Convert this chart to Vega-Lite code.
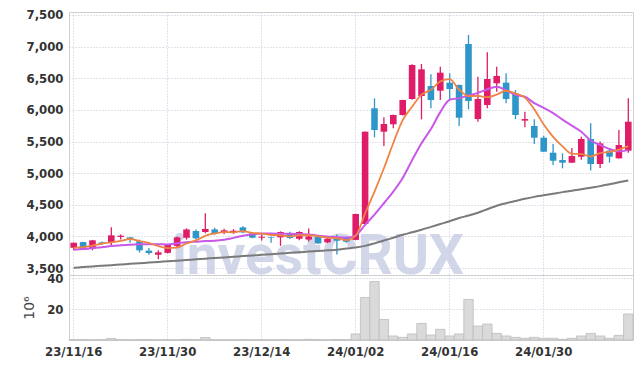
{
  "$schema": "https://vega.github.io/schema/vega-lite/v6.json",
  "autosize": {"type": "pad"},
  "padding": {"left": 22, "top": 8, "right": 10, "bottom": 5},
  "background": "white",
  "spacing": 0,
  "bounds": "flush",
  "config": {
    "view": {"stroke": "#cfcfcf", "strokeWidth": 1},
    "axis": {
      "labelFont": "DejaVu Sans Condensed, sans-serif",
      "labelFontSize": 13,
      "labelFontWeight": "bold",
      "labelColor": "#333333",
      "labelOverlap": false,
      "gridColor": "#c3c7d9",
      "gridDash": [1, 2],
      "gridWidth": 1,
      "ticks": false,
      "domain": false
    }
  },
  "data": {
    "values": [
      {"date": "23/11/16", "open": 3820, "high": 3905, "low": 3785, "close": 3900, "volume": 0.2, "ma5": 3820, "ma10": 3790, "ma60": 3505},
      {"date": "23/11/17", "open": 3910, "high": 3915, "low": 3795, "close": 3800, "volume": 0.2, "ma5": 3832, "ma10": 3800, "ma60": 3515},
      {"date": "23/11/20", "open": 3805, "high": 3945, "low": 3780, "close": 3938, "volume": 0.1, "ma5": 3853, "ma10": 3815, "ma60": 3525},
      {"date": "23/11/21", "open": 3905, "high": 3920, "low": 3865, "close": 3880, "volume": 0.2, "ma5": 3885, "ma10": 3830, "ma60": 3536},
      {"date": "23/11/22", "open": 3906, "high": 4143, "low": 3850, "close": 4017, "volume": 1.0, "ma5": 3907, "ma10": 3848, "ma60": 3546},
      {"date": "23/11/23", "open": 3990, "high": 4030, "low": 3950, "close": 4010, "volume": 0.2, "ma5": 3929, "ma10": 3860, "ma60": 3556},
      {"date": "23/11/24", "open": 3985, "high": 3990, "low": 3900, "close": 3948, "volume": 0.1, "ma5": 3959, "ma10": 3870, "ma60": 3566},
      {"date": "23/11/27", "open": 3925, "high": 3948, "low": 3745, "close": 3780, "volume": 0.2, "ma5": 3927, "ma10": 3876, "ma60": 3576},
      {"date": "23/11/28", "open": 3775, "high": 3816, "low": 3710, "close": 3737, "volume": 0.2, "ma5": 3898, "ma10": 3878, "ma60": 3587},
      {"date": "23/11/29", "open": 3710, "high": 3780, "low": 3640, "close": 3748, "volume": 0.1, "ma5": 3845, "ma10": 3876, "ma60": 3597},
      {"date": "23/11/30", "open": 3740, "high": 3875, "low": 3730, "close": 3865, "volume": 0.2, "ma5": 3816, "ma10": 3872, "ma60": 3607},
      {"date": "23/12/01", "open": 3850, "high": 4000, "low": 3830, "close": 3985, "volume": 0.1, "ma5": 3823, "ma10": 3891, "ma60": 3617},
      {"date": "23/12/04", "open": 3978, "high": 4127, "low": 3948, "close": 4110, "volume": 0.4, "ma5": 3889, "ma10": 3908, "ma60": 3627},
      {"date": "23/12/05", "open": 4085, "high": 4111, "low": 3950, "close": 3970, "volume": 0.2, "ma5": 3936, "ma10": 3917, "ma60": 3638},
      {"date": "23/12/06", "open": 4070, "high": 4365, "low": 4048, "close": 4117, "volume": 1.6, "ma5": 4009, "ma10": 3927, "ma60": 3648},
      {"date": "23/12/07", "open": 4110, "high": 4135, "low": 4030, "close": 4050, "volume": 0.2, "ma5": 4046, "ma10": 3931, "ma60": 3658},
      {"date": "23/12/08", "open": 4064, "high": 4120, "low": 4035, "close": 4096, "volume": 0.1, "ma5": 4069, "ma10": 3946, "ma60": 3668},
      {"date": "23/12/11", "open": 4060, "high": 4115, "low": 4040, "close": 4090, "volume": 0.1, "ma5": 4065, "ma10": 3977, "ma60": 3678},
      {"date": "23/12/12", "open": 4143, "high": 4160, "low": 4050, "close": 4064, "volume": 0.2, "ma5": 4083, "ma10": 4010, "ma60": 3689},
      {"date": "23/12/13", "open": 4048, "high": 4060, "low": 3970, "close": 3980, "volume": 0.1, "ma5": 4056, "ma10": 4033, "ma60": 3699},
      {"date": "23/12/14", "open": 3980, "high": 4030, "low": 3935, "close": 3995, "volume": 0.1, "ma5": 4045, "ma10": 4046, "ma60": 3709},
      {"date": "23/12/15", "open": 3990, "high": 3995, "low": 3900, "close": 3980, "volume": 0.1, "ma5": 4022, "ma10": 4045, "ma60": 3719},
      {"date": "23/12/18", "open": 3985, "high": 4080, "low": 3850, "close": 4070, "volume": 0.2, "ma5": 4018, "ma10": 4041, "ma60": 3729},
      {"date": "23/12/19", "open": 4053, "high": 4075, "low": 3960, "close": 3975, "volume": 0.1, "ma5": 4000, "ma10": 4042, "ma60": 3740},
      {"date": "23/12/20", "open": 3963, "high": 4080, "low": 3940, "close": 4070, "volume": 0.1, "ma5": 4018, "ma10": 4037, "ma60": 3750},
      {"date": "23/12/21", "open": 3950, "high": 4125, "low": 3920, "close": 4000, "volume": 0.4, "ma5": 4019, "ma10": 4032, "ma60": 3760},
      {"date": "23/12/22", "open": 3995, "high": 4010, "low": 3880, "close": 3890, "volume": 0.2, "ma5": 4001, "ma10": 4011, "ma60": 3770},
      {"date": "23/12/26", "open": 3906, "high": 3985, "low": 3895, "close": 3963, "volume": 0.1, "ma5": 3980, "ma10": 3999, "ma60": 3780},
      {"date": "23/12/27", "open": 3985, "high": 4030, "low": 3715, "close": 3932, "volume": 0.3, "ma5": 3971, "ma10": 3986, "ma60": 3790},
      {"date": "23/12/28", "open": 3980, "high": 3995, "low": 3900, "close": 3916, "volume": 0.2, "ma5": 3940, "ma10": 3979, "ma60": 3808},
      {"date": "24/01/02", "open": 3945, "high": 4360, "low": 3940, "close": 4354, "volume": 3.9, "ma5": 4011, "ma10": 4015, "ma60": 3825},
      {"date": "24/01/03", "open": 4196, "high": 5660, "low": 4180, "close": 5655, "volume": 27.5, "ma5": 4364, "ma10": 4183, "ma60": 3850},
      {"date": "24/01/04", "open": 6025, "high": 6183, "low": 5566, "close": 5682, "volume": 37.8, "ma5": 4708, "ma10": 4344, "ma60": 3890},
      {"date": "24/01/05", "open": 5655, "high": 5883, "low": 5429, "close": 5777, "volume": 13.3, "ma5": 5077, "ma10": 4524, "ma60": 3935},
      {"date": "24/01/08", "open": 5772, "high": 5925, "low": 5709, "close": 5919, "volume": 2.6, "ma5": 5477, "ma10": 4709, "ma60": 3980},
      {"date": "24/01/09", "open": 5919, "high": 6160, "low": 5910, "close": 6156, "volume": 1.7, "ma5": 5838, "ma10": 4924, "ma60": 4025},
      {"date": "24/01/10", "open": 6172, "high": 6720, "low": 6160, "close": 6709, "volume": 3.9, "ma5": 6049, "ma10": 5206, "ma60": 4065},
      {"date": "24/01/11", "open": 6219, "high": 6725, "low": 5850, "close": 6641, "volume": 10.7, "ma5": 6240, "ma10": 5474, "ma60": 4105},
      {"date": "24/01/12", "open": 6377, "high": 6562, "low": 6025, "close": 6156, "volume": 3.2, "ma5": 6316, "ma10": 5697, "ma60": 4150},
      {"date": "24/01/15", "open": 6303, "high": 6683, "low": 6156, "close": 6588, "volume": 6.9, "ma5": 6450, "ma10": 5964, "ma60": 4195},
      {"date": "24/01/16", "open": 6430, "high": 6577, "low": 6156, "close": 6330, "volume": 2.6, "ma5": 6485, "ma10": 6161, "ma60": 4240},
      {"date": "24/01/17", "open": 6393, "high": 6400, "low": 5745, "close": 5876, "volume": 3.9, "ma5": 6318, "ma10": 6183, "ma60": 4290},
      {"date": "24/01/18", "open": 7041, "high": 7184, "low": 6009, "close": 6140, "volume": 26.2, "ma5": 6218, "ma10": 6229, "ma60": 4330},
      {"date": "24/01/19", "open": 5856, "high": 6525, "low": 5813, "close": 6172, "volume": 9.0, "ma5": 6221, "ma10": 6269, "ma60": 4375},
      {"date": "24/01/22", "open": 6077, "high": 6910, "low": 6025, "close": 6488, "volume": 10.3, "ma5": 6201, "ma10": 6326, "ma60": 4430},
      {"date": "24/01/23", "open": 6420, "high": 6683, "low": 6287, "close": 6536, "volume": 4.3, "ma5": 6242, "ma10": 6364, "ma60": 4485},
      {"date": "24/01/24", "open": 6430, "high": 6577, "low": 6103, "close": 6172, "volume": 2.6, "ma5": 6302, "ma10": 6310, "ma60": 4525},
      {"date": "24/01/25", "open": 6261, "high": 6314, "low": 5855, "close": 5919, "volume": 1.7, "ma5": 6257, "ma10": 6238, "ma60": 4560},
      {"date": "24/01/26", "open": 5830, "high": 5972, "low": 5725, "close": 5855, "volume": 1.1, "ma5": 6194, "ma10": 6208, "ma60": 4595},
      {"date": "24/01/29", "open": 5745, "high": 5850, "low": 5460, "close": 5560, "volume": 1.7, "ma5": 6008, "ma10": 6105, "ma60": 4625},
      {"date": "24/01/30", "open": 5560, "high": 5590, "low": 5335, "close": 5339, "volume": 1.1, "ma5": 5769, "ma10": 6030, "ma60": 4650},
      {"date": "24/01/31", "open": 5323, "high": 5460, "low": 5128, "close": 5196, "volume": 1.1, "ma5": 5574, "ma10": 5950, "ma60": 4675},
      {"date": "24/02/01", "open": 5207, "high": 5313, "low": 5076, "close": 5165, "volume": 0.4, "ma5": 5423, "ma10": 5845, "ma60": 4700},
      {"date": "24/02/02", "open": 5165, "high": 5397, "low": 5160, "close": 5270, "volume": 1.1, "ma5": 5306, "ma10": 5750, "ma60": 4720},
      {"date": "24/02/05", "open": 5260, "high": 5575, "low": 5210, "close": 5540, "volume": 2.6, "ma5": 5302, "ma10": 5655, "ma60": 4745},
      {"date": "24/02/06", "open": 5540, "high": 5788, "low": 5040, "close": 5144, "volume": 4.3, "ma5": 5263, "ma10": 5516, "ma60": 4770},
      {"date": "24/02/07", "open": 5144, "high": 5500, "low": 5080, "close": 5470, "volume": 2.6, "ma5": 5318, "ma10": 5446, "ma60": 4795},
      {"date": "24/02/08", "open": 5355, "high": 5397, "low": 5165, "close": 5260, "volume": 1.1, "ma5": 5337, "ma10": 5380, "ma60": 4825},
      {"date": "24/02/13", "open": 5234, "high": 5680, "low": 5230, "close": 5445, "volume": 3.0, "ma5": 5372, "ma10": 5345, "ma60": 4855},
      {"date": "24/02/14", "open": 5355, "high": 6183, "low": 5323, "close": 5813, "volume": 16.8, "ma5": 5426, "ma10": 5364, "ma60": 4885}
    ]
  },
  "vconcat": [
    {
      "width": 564,
      "height": 263,
      "encoding": {
        "x": {
          "field": "date",
          "type": "ordinal",
          "sort": "ascending",
          "scale": {"paddingInner": 0, "paddingOuter": 0},
          "axis": {
            "values": ["23/11/16", "23/11/30", "23/12/14", "24/01/02", "24/01/16", "24/01/30"],
            "labels": false,
            "title": null,
            "grid": true,
            "bandPosition": 0.5
          }
        }
      },
      "layer": [
        {
          "transform": [{"filter": "datum.date == '23/12/22'"}],
          "mark": {
            "type": "text",
            "text": "investCRUX",
            "font": "Roboto, sans-serif",
            "fontWeight": "bold",
            "fontSize": 55,
            "color": "#c9cfe4",
            "opacity": 0.85,
            "baseline": "alphabetic",
            "align": "center"
          },
          "encoding": {
            "y": {
              "datum": 3400,
              "type": "quantitative",
              "scale": {"domain": [3390, 7547], "nice": false, "zero": false},
              "axis": {"values": [3500, 4000, 4500, 5000, 5500, 6000, 6500, 7000, 7500], "format": ",d", "title": null, "labelPadding": 6, "grid": true, "labelOverlap": false}
            }
          }
        },
        {
          "mark": {"type": "rule", "strokeWidth": 1.3},
          "encoding": {
            "y": {
              "field": "low",
              "type": "quantitative",
              "scale": {"domain": [3390, 7547], "nice": false, "zero": false},
              "axis": {"values": [3500, 4000, 4500, 5000, 5500, 6000, 6500, 7000, 7500], "format": ",d", "title": null, "labelPadding": 6, "grid": true, "labelOverlap": false}
            },
            "y2": {"field": "high"},
            "color": {"condition": {"test": "datum.close >= datum.open", "value": "#e01c68"}, "value": "#2e96c8"}
          }
        },
        {
          "mark": {"type": "bar", "width": {"band": 0.7}},
          "encoding": {
            "y": {
              "field": "open",
              "type": "quantitative",
              "scale": {"domain": [3390, 7547], "nice": false, "zero": false},
              "axis": {"values": [3500, 4000, 4500, 5000, 5500, 6000, 6500, 7000, 7500], "format": ",d", "title": null, "labelPadding": 6, "grid": true, "labelOverlap": false}
            },
            "y2": {"field": "close"},
            "color": {"condition": {"test": "datum.close >= datum.open", "value": "#e01c68"}, "value": "#2e96c8"}
          }
        },
        {
          "mark": {"type": "line", "color": "#7a7a7a", "strokeWidth": 2, "interpolate": "monotone"},
          "encoding": {
            "y": {
              "field": "ma60",
              "type": "quantitative",
              "scale": {"domain": [3390, 7547], "nice": false, "zero": false},
              "axis": {"values": [3500, 4000, 4500, 5000, 5500, 6000, 6500, 7000, 7500], "format": ",d", "title": null, "labelPadding": 6, "grid": true, "labelOverlap": false}
            }
          }
        },
        {
          "mark": {"type": "line", "color": "#c957e8", "strokeWidth": 2, "interpolate": "monotone"},
          "encoding": {
            "y": {
              "field": "ma10",
              "type": "quantitative",
              "scale": {"domain": [3390, 7547], "nice": false, "zero": false},
              "axis": {"values": [3500, 4000, 4500, 5000, 5500, 6000, 6500, 7000, 7500], "format": ",d", "title": null, "labelPadding": 6, "grid": true, "labelOverlap": false}
            }
          }
        },
        {
          "mark": {"type": "line", "color": "#ee8444", "strokeWidth": 1.8, "interpolate": "monotone"},
          "encoding": {
            "y": {
              "field": "ma5",
              "type": "quantitative",
              "scale": {"domain": [3390, 7547], "nice": false, "zero": false},
              "axis": {"values": [3500, 4000, 4500, 5000, 5500, 6000, 6500, 7000, 7500], "format": ",d", "title": null, "labelPadding": 6, "grid": true, "labelOverlap": false}
            }
          }
        }
      ]
    },
    {
      "width": 564,
      "height": 65,
      "mark": {"type": "bar", "color": "#dadada", "stroke": "#bdbdbd", "strokeWidth": 0.8},
      "encoding": {
        "x": {
          "field": "date",
          "type": "ordinal",
          "sort": "ascending",
          "scale": {"paddingInner": 0, "paddingOuter": 0},
          "axis": {
            "values": ["23/11/16", "23/11/30", "23/12/14", "24/01/02", "24/01/16", "24/01/30"],
            "labelAngle": 0,
            "labelPadding": 5,
            "title": null,
            "grid": true,
            "bandPosition": 0.5
          }
        },
        "y": {
          "field": "volume",
          "type": "quantitative",
          "scale": {"domain": [0, 42], "nice": false},
          "axis": {
            "values": [20, 40],
            "labelPadding": 6,
            "labelOverlap": false,
            "title": "10⁶",
            "titleFont": "DejaVu Sans, sans-serif",
            "titleFontWeight": "normal",
            "titleFontSize": 14,
            "titleColor": "#444444",
            "titlePadding": 10,
            "grid": true
          }
        }
      }
    }
  ]
}
